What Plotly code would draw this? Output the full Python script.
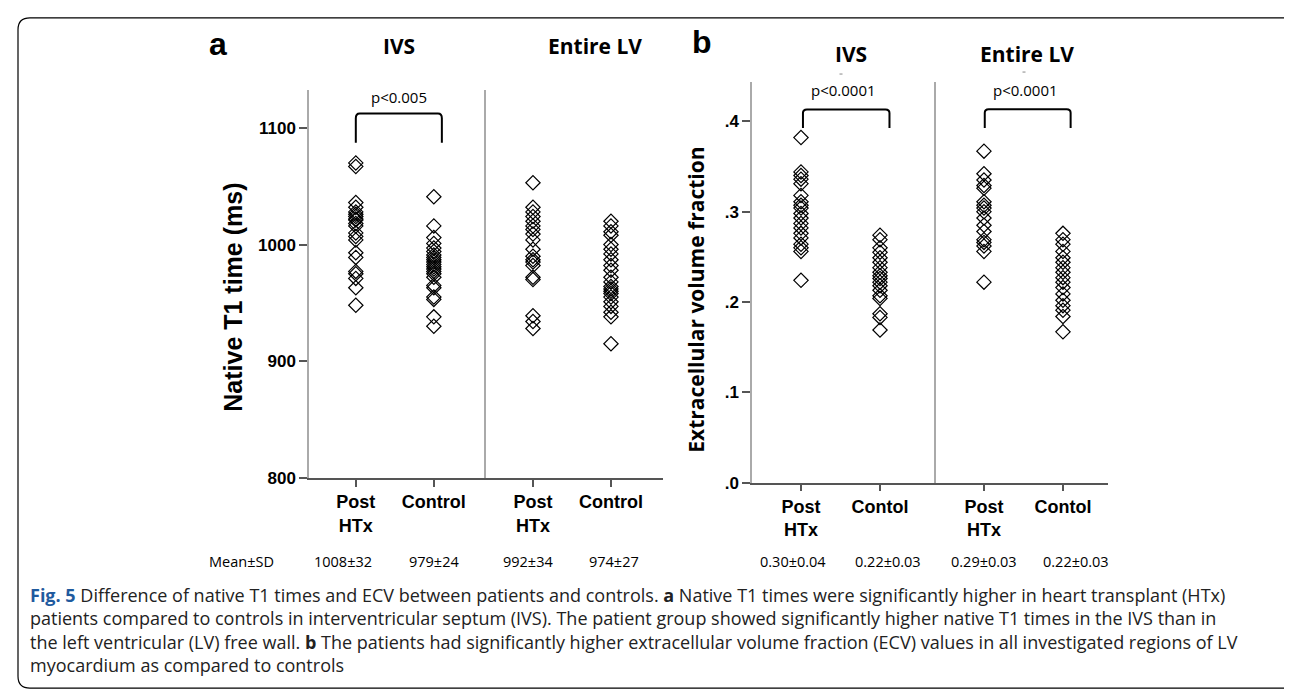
import plotly.graph_objects as go

W, H = 1292, 693

# ---------------- data ----------------
categories_a = ["Post<br>HTx", "Control"]
categories_b = ["Post<br>HTx", "Contol"]

t1_ivs_post = [1070, 1067, 1036, 1032, 1028, 1026, 1024, 1022, 1021, 1018, 1016,
               1010, 1007, 1004, 993, 989, 977, 975, 971, 963, 948]
t1_ivs_ctrl = [1041, 1016, 1006, 1001, 997, 994, 991, 989, 987, 985, 983, 981,
               979, 977, 975, 972, 965, 963, 955, 953, 938, 930]
t1_lv_post = [1053, 1032, 1028, 1024, 1020, 1016, 1013, 1009, 1004, 996, 990,
              987, 985, 982, 972, 970, 939, 934, 928]
t1_lv_ctrl = [1020, 1016, 1011, 1008, 1000, 996, 992, 987, 982, 978, 972, 968,
              964, 962, 960, 958, 955, 951, 947, 942, 938, 915]

ecv_ivs_post = [0.382, 0.344, 0.340, 0.336, 0.331, 0.318, 0.311, 0.307, 0.304,
                0.298, 0.293, 0.287, 0.282, 0.276, 0.271, 0.264, 0.260, 0.256, 0.224]
ecv_ivs_ctrl = [0.274, 0.269, 0.260, 0.255, 0.249, 0.244, 0.238, 0.233, 0.229,
                0.226, 0.222, 0.218, 0.213, 0.207, 0.204, 0.187, 0.183, 0.169]
ecv_lv_post = [0.367, 0.342, 0.335, 0.329, 0.326, 0.311, 0.307, 0.304, 0.300,
               0.293, 0.285, 0.278, 0.269, 0.266, 0.262, 0.256, 0.222]
ecv_lv_ctrl = [0.276, 0.269, 0.264, 0.256, 0.249, 0.244, 0.238, 0.233, 0.227,
               0.222, 0.216, 0.209, 0.202, 0.196, 0.191, 0.184, 0.167]

t1_ticks = [800, 900, 1000, 1100]
t1_ticktext = ["800", "900", "1000", "1100"]
ecv_ticks = [0.0, 0.1, 0.2, 0.3, 0.4]
ecv_ticktext = [".0", ".1", ".2", ".3", ".4"]

mean_sd_a = ["1008\u00b132", "979\u00b124", "992\u00b134", "974\u00b127"]
mean_sd_b = ["0.30\u00b10.04", "0.22\u00b10.03", "0.29\u00b10.03", "0.22\u00b10.03"]

# ---------------- helpers ----------------
def px(x):
    return x / W

def py(y):
    return 1 - y / H

BOLD = "Liberation Sans"
marker = dict(symbol="diamond-open", size=11, color="black",
              line=dict(color="black", width=1.2))

fig = go.Figure()

panels = [
    ("x", "y", t1_ivs_post, t1_ivs_ctrl),
    ("x2", "y2", t1_lv_post, t1_lv_ctrl),
    ("x3", "y3", ecv_ivs_post, ecv_ivs_ctrl),
    ("x4", "y4", ecv_lv_post, ecv_lv_ctrl),
]
for xa, ya, post, ctrl in panels:
    fig.add_trace(go.Scatter(x=[0] * len(post), y=post, mode="markers",
                             marker=marker, xaxis=xa, yaxis=ya, showlegend=False))
    fig.add_trace(go.Scatter(x=[1] * len(ctrl), y=ctrl, mode="markers",
                             marker=marker, xaxis=xa, yaxis=ya, showlegend=False))

xline = dict(showline=True, linecolor="#555", linewidth=1.5, ticks="outside",
             ticklen=7, tickcolor="#555", tickwidth=1.5, showgrid=False,
             zeroline=False, tickvals=[0, 1],
             tickfont=dict(family=BOLD, size=18, color="black", weight="bold"))
yline = dict(showline=True, linecolor="#aaa", linewidth=1.5, showgrid=False,
             zeroline=False)

a_bot, a_top = py(476.7), py(83)
b_bot, b_top = py(481.7), py(75)

fig.update_layout(
    width=W, height=H, margin=dict(l=0, r=0, t=0, b=0),
    paper_bgcolor="white", plot_bgcolor="white", showlegend=False,
    xaxis=dict(**xline, domain=[px(301), px(477.7)], range=[-0.6, 1.665],
               ticktext=categories_a, anchor="y"),
    xaxis2=dict(**xline, domain=[px(477.7), px(655)], range=[-0.606, 1.667],
                ticktext=categories_a, anchor="y2"),
    xaxis3=dict(**xline, domain=[px(744), px(927.7)], range=[-0.62, 1.705],
                ticktext=categories_b, anchor="y3"),
    xaxis4=dict(**xline, domain=[px(927.7), px(1100)], range=[-0.611, 1.57],
                ticktext=categories_b, anchor="y4"),
    yaxis=dict(**yline, domain=[a_bot, a_top], range=[800, 1132.7], anchor="x",
               tickvals=t1_ticks, ticktext=t1_ticktext, ticks="outside",
               ticklen=8, tickcolor="#555", tickwidth=1.5,
               tickfont=dict(family=BOLD, size=17, color="black", weight="bold")),
    yaxis2=dict(**yline, domain=[a_bot, a_top], range=[800, 1132.7], anchor="x2",
                showticklabels=False, ticks=""),
    yaxis3=dict(**yline, domain=[b_bot, b_top], range=[0, 0.4436], anchor="x3",
                tickvals=ecv_ticks, ticktext=ecv_ticktext, ticks="outside",
                ticklen=8, tickcolor="#555", tickwidth=1.5,
                tickfont=dict(family=BOLD, size=17, color="black", weight="bold")),
    yaxis4=dict(**yline, domain=[b_bot, b_top], range=[0, 0.4436], anchor="x4",
                showticklabels=False, ticks=""),
)

# significance brackets (data coordinates)
def bracket(xref, yref, x0, x1, ybot, ytop, rx, ry):
    path = (f"M {x0},{ybot} L {x0},{ytop - ry} Q {x0},{ytop} {x0 + rx},{ytop} "
            f"L {x1 - rx},{ytop} Q {x1},{ytop} {x1},{ytop - ry} L {x1},{ybot}")
    fig.add_shape(type="path", path=path, xref=xref, yref=yref,
                  line=dict(color="black", width=2))

bracket("x", "y", 0.0, 1.103, 1087.3, 1112.4, 0.05, 4)
bracket("x3", "y3", 0.025, 1.12, 0.3927, 0.4131, 0.05, 0.004)
bracket("x4", "y4", 0.01, 1.097, 0.3927, 0.4134, 0.05, 0.004)

# border (rounded rectangle)
x0, x1, yt, yb = px(10), px(1290), py(10), py(690)
rx, ry = px(12), 12 / H
border = (f"M {x0},{yb + ry} L {x0},{yt - ry} Q {x0},{yt} {x0 + rx},{yt} "
          f"L {x1 - rx},{yt} Q {x1},{yt} {x1},{yt - ry} L {x1},{yb + ry} "
          f"Q {x1},{yb} {x1 - rx},{yb} L {x0 + rx},{yb} Q {x0},{yb} {x0},{yb + ry} Z")
fig.add_shape(type="path", path=border, xref="paper", yref="paper",
              line=dict(color="black", width=1.2))

# faint marks above the p-values
for mx, my in [(833, 67), (1016, 65)]:
    fig.add_shape(type="line", xref="paper", yref="paper",
                  x0=px(mx - 1.5), x1=px(mx + 1.5), y0=py(my), y1=py(my),
                  line=dict(color="#888", width=1))

def note(text, x, y, size, family="Open Sans", bold=False, color="black",
         xanchor="center", yanchor="middle", angle=0, align="center"):
    fig.add_annotation(text=text, x=px(x), y=py(y), xref="paper", yref="paper",
                       showarrow=False, xanchor=xanchor, yanchor=yanchor,
                       textangle=angle, align=align,
                       font=dict(family=family, size=size, color=color,
                                 weight="bold" if bold else "normal"))

# panel letters and titles
note("a", 210, 37, 32, family=BOLD, bold=True)
note("b", 694, 35, 32, family=BOLD, bold=True)
note("IVS", 391, 39, 21, bold=True)
note("Entire LV", 587, 39, 21, bold=True)
note("IVS", 843, 47, 21, bold=True)
note("Entire LV", 1019, 47, 21, bold=True)

# p-values
note("p<0.005", 391, 90, 15)
note("p<0.0001", 835, 83, 15)
note("p<0.0001", 1017, 83, 15)

# axis titles
note("Native T1 time (ms)", 225, 294, 25, family=BOLD, bold=True, angle=-90)
note("Extracellular volume fraction", 688, 296, 21, bold=True, angle=-90)

# Mean ± SD row
note("Mean\u00b1SD", 233, 562, 14.5)
for txt, x in zip(mean_sd_a, [335, 426, 520, 606]):
    note(txt, x, 562, 14.5)
for txt, x in zip(mean_sd_b, [785, 880, 976, 1068]):
    note(txt, x, 562, 14.5)

# caption (one multi-line text block)
caption = [
    "<span style='color:#1f5a9e'><b>Fig. 5</b></span> Difference of native T1 times and ECV between patients and controls. "
    "<b>a</b> Native T1 times were significantly higher in heart transplant (HTx)",
    "patients compared to controls in interventricular septum (IVS). The patient group showed significantly higher native T1 times in the IVS than in",
    "the left ventricular (LV) free wall. <b>b</b> The patients had significantly higher extracellular volume fraction (ECV) values in all investigated regions of LV",
    "myocardium as compared to controls",
]
note("<br>".join(caption), 20, 581, 18, color="#222", xanchor="left",
     yanchor="top", align="left")

fig.write_html("out.html")
